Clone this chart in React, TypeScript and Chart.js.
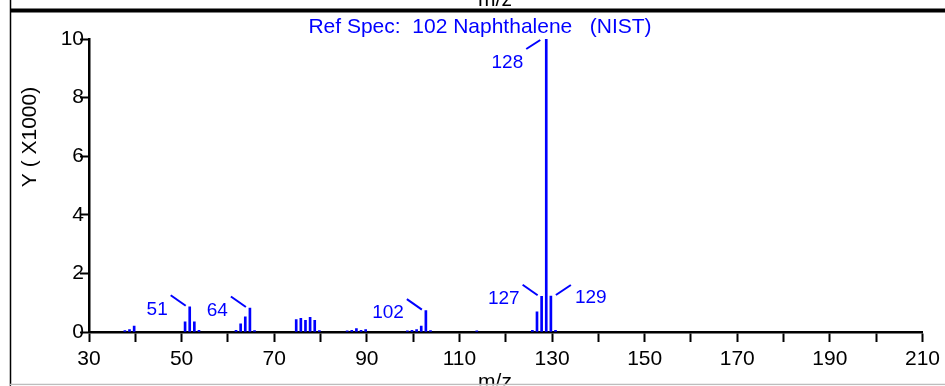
import React, { useEffect, useRef } from "react";
import { Chart, registerables } from "chart.js";

Chart.register(...registerables);

// Reference mass spectrum of naphthalene (NIST library entry 102)
const massToCharge = [
  37, 38, 39, 50, 51, 52, 53, 61, 62, 63, 64, 65, 74, 75, 76, 77, 78, 79,
  85, 86, 87, 88, 89, 98, 99, 100, 101, 102, 103, 113, 125, 126, 127, 128,
  129, 130,
];
const abundance = [
  50, 80, 200, 350, 860, 350, 60, 60, 280, 520, 820, 50, 420, 470, 400, 500,
  400, 50, 40, 60, 120, 60, 80, 40, 60, 80, 200, 730, 50, 40, 60, 690, 1220,
  9999, 1230, 60,
];

// Axis ranges and tick spacing
const xMin = 30;
const xMax = 210;
const xStep = 10;
const yMax = 10000;
const yStep = 2000;
// the stick plot sits this many m/z units right of the nominal tick marks
const stickShift = 0.75;

// Peaks that carry an m/z callout, and on which side of the peak it sits
const labelledPeaks = [51, 64, 102, 127, 128, 129];
const labelSides = ["left", "left", "left", "left", "top", "right"];

const titleText = "Ref Spec:  102 Naphthalene   (NIST)";
const xAxisTitle = "m/z";
const yAxisTitle = "Y ( X1000)";

const BLUE = "#0000ff";
const FONT = '"Liberation Sans", Arial, Helvetica, sans-serif';

const spectrumDecor = {
  id: "spectrumDecor",
  beforeDraw(chart: any) {
    const { ctx, width, height } = chart;
    ctx.save();
    ctx.fillStyle = "#ffffff";
    ctx.fillRect(0, 0, width, height);
    ctx.restore();
  },
  afterDraw(chart: any) {
    const { ctx, width, height } = chart;
    const meta = chart.getDatasetMeta(0);
    ctx.save();

    // panel frame: left rule, heavy top rule, light bottom rule
    ctx.strokeStyle = "#000000";
    ctx.lineWidth = 1.5;
    ctx.beginPath();
    ctx.moveTo(10.5, 0);
    ctx.lineTo(10.5, height);
    ctx.stroke();
    ctx.lineWidth = 4;
    ctx.beginPath();
    ctx.moveTo(10, 10.5);
    ctx.lineTo(width, 10.5);
    ctx.stroke();

    // tail of the panel above
    ctx.fillStyle = "#000000";
    ctx.font = `21px ${FONT}`;
    ctx.textAlign = "center";
    ctx.textBaseline = "alphabetic";
    ctx.fillText(xAxisTitle, 495, 6);

    // x axis title, running off the bottom edge
    ctx.fillText(xAxisTitle, 495, 388);
    ctx.strokeStyle = "#bdbdbd";
    ctx.lineWidth = 1.5;
    ctx.beginPath();
    ctx.moveTo(10, 384.5);
    ctx.lineTo(width, 384.5);
    ctx.stroke();
    ctx.fillStyle = "#ffffff";
    ctx.fillRect(11, 385.3, width, 2);

    // y axis title
    ctx.save();
    ctx.translate(30, 137);
    ctx.rotate(-Math.PI / 2);
    ctx.fillStyle = "#000000";
    ctx.font = `21px ${FONT}`;
    ctx.textAlign = "center";
    ctx.textBaseline = "middle";
    ctx.fillText(yAxisTitle, 0, 0);
    ctx.restore();

    // chart title
    ctx.fillStyle = BLUE;
    ctx.font = `21px ${FONT}`;
    ctx.textAlign = "center";
    ctx.textBaseline = "alphabetic";
    ctx.fillText(titleText, 480, 33);

    // peak callouts
    ctx.font = `19px ${FONT}`;
    ctx.strokeStyle = BLUE;
    ctx.lineWidth = 2;
    ctx.textBaseline = "middle";
    labelledPeaks.forEach((mz, k) => {
      const idx = massToCharge.indexOf(mz);
      const bar = meta.data[idx];
      if (!bar) return;
      const x = bar.x;
      const y = bar.y;
      const side = labelSides[k];
      ctx.beginPath();
      if (side === "left") {
        ctx.moveTo(x - 4, y - 1);
        ctx.lineTo(x - 19, y - 11.5);
        ctx.stroke();
        ctx.textAlign = "right";
        ctx.fillText(String(mz), x - 22, y + 2.5);
      } else if (side === "right") {
        ctx.moveTo(x + 5, y - 1);
        ctx.lineTo(x + 20, y - 11);
        ctx.stroke();
        ctx.textAlign = "left";
        ctx.fillText(String(mz), x + 24, y + 2);
      } else {
        ctx.moveTo(x - 6, y + 1);
        ctx.lineTo(x - 20, y + 10);
        ctx.stroke();
        ctx.textAlign = "right";
        ctx.fillText(String(mz), x - 23, y + 24);
      }
    });

    ctx.restore();
  },
};

export default function App() {
  const canvasRef = useRef<HTMLCanvasElement | null>(null);

  useEffect(() => {
    document.body.style.margin = "0";
    const canvas = canvasRef.current;
    if (!canvas) return;

    const chart = new Chart(canvas, {
      type: "bar",
      data: {
        datasets: [
          {
            data: massToCharge.map((m, i) => ({ x: m, y: abundance[i] })),
            backgroundColor: BLUE,
            borderWidth: 0,
            barThickness: 2,
            xAxisID: "sticks",
          },
        ],
      },
      options: {
        responsive: false,
        animation: false,
        events: [],
        layout: { padding: { top: 39, right: 22, left: 0, bottom: 0 } },
        plugins: {
          legend: { display: false },
          tooltip: { enabled: false },
          title: { display: false },
        },
        scales: {
          x: {
            type: "linear",
            min: xMin,
            max: xMax,
            offset: false,
            afterFit(scale: any) {
              scale.height = 54;
            },
            border: { display: true, color: "#000000", width: 2.5 },
            grid: {
              display: true,
              offset: false,
              drawOnChartArea: false,
              drawTicks: true,
              tickLength: 10,
              tickWidth: 2,
              tickColor: "#000000",
            },
            ticks: {
              stepSize: xStep,
              autoSkip: false,
              maxRotation: 0,
              color: "#000000",
              padding: 5,
              font: { family: FONT, size: 21 },
              callback: (v: any) => ((Number(v) - xMin) % (2 * xStep) === 0 ? String(v) : ""),
            },
          },
          sticks: {
            type: "linear",
            axis: "x",
            position: "bottom",
            display: false,
            offset: false,
            min: xMin - stickShift,
            max: xMax - stickShift,
            grid: { offset: false },
          },
          y: {
            type: "linear",
            min: 0,
            max: yMax,
            afterFit(scale: any) {
              scale.width = 89;
            },
            border: { display: true, color: "#000000", width: 2.5 },
            grid: {
              display: true,
              drawOnChartArea: false,
              drawTicks: true,
              tickLength: 9,
              tickWidth: 2,
              tickColor: "#000000",
            },
            ticks: {
              stepSize: yStep,
              color: "#000000",
              padding: -4,
              font: { family: FONT, size: 21 },
              callback: (v: any) => String(Number(v) / 1000),
            },
          },
        },
      } as any,
      plugins: [spectrumDecor],
    });

    return () => chart.destroy();
  }, []);

  return (
    <div style={{ position: "absolute", left: 0, top: 0, width: 945, height: 386 }}>
      <canvas ref={canvasRef} width={945} height={386} style={{ display: "block" }} />
    </div>
  );
}
